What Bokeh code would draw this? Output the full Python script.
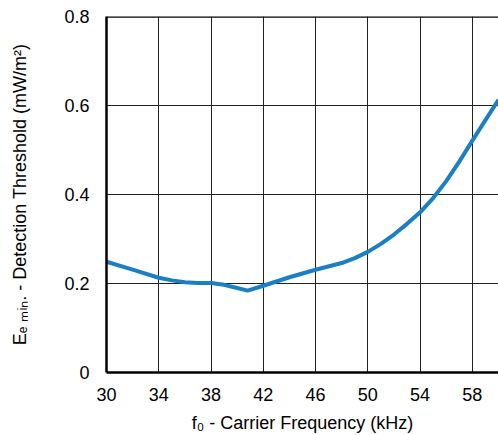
from bokeh.plotting import figure
from bokeh.models import Range1d, FixedTicker, Span
from bokeh.embed import file_html
from bokeh.resources import INLINE

freq_khz = [30, 32, 34, 35, 36, 37, 38, 39, 40, 40.8, 42, 44, 46, 48, 49, 50, 51, 52, 53, 54, 55, 56, 57, 58, 59, 60]
threshold = [0.249, 0.231, 0.213, 0.207, 0.203, 0.201, 0.201, 0.197, 0.19, 0.184, 0.195, 0.214, 0.231,
             0.246, 0.257, 0.271, 0.289, 0.31, 0.334, 0.36, 0.392, 0.43, 0.474, 0.521, 0.567, 0.613]
x_ticks = [30, 34, 38, 42, 46, 50, 54, 58]
y_ticks = [0, 0.2, 0.4, 0.6, 0.8]
y_tick_labels = {0: "0", 0.2: "0.2", 0.4: "0.4", 0.6: "0.6", 0.8: "0.8"}

FONT = "Liberation Sans"

p = figure(width=498, height=435, output_backend="svg", toolbar_location=None,
           x_range=Range1d(30, 60), y_range=Range1d(0, 0.8),
           min_border_left=106, min_border_right=0, min_border_top=16, min_border_bottom=0)

p.line(freq_khz, threshold, line_color="#1b7fc3", line_width=4, line_join="round")

p.outline_line_color = None
p.background_fill_color = "white"
p.border_fill_color = "white"

p.xaxis.ticker = FixedTicker(ticks=x_ticks)
p.yaxis.ticker = FixedTicker(ticks=y_ticks)
p.yaxis.major_label_overrides = y_tick_labels

for ax in (p.xaxis, p.yaxis):
    ax.axis_line_color = "black"
    ax.axis_line_width = 2.5
    ax.major_tick_line_color = None
    ax.minor_tick_line_color = None
    ax.major_tick_out = 0
    ax.major_tick_in = 0
    ax.major_label_text_font = FONT
    ax.major_label_text_font_size = "18px"
    ax.major_label_text_color = "black"
    ax.axis_label_text_font = FONT
    ax.axis_label_text_font_size = "18px"
    ax.axis_label_text_font_style = "normal"
    ax.axis_label_text_color = "black"

p.xaxis.major_label_standoff = 15
p.yaxis.major_label_standoff = 17
p.xaxis.axis_label = "f\u2080 - Carrier Frequency (kHz)"
p.xaxis.axis_label_standoff = 9
p.yaxis.axis_label = "E\u2091 \u2098\u1d62\u2099. - Detection Threshold (mW/m\u00b2)"
p.yaxis.axis_label_standoff = 31

p.xgrid.ticker = FixedTicker(ticks=x_ticks[1:])
p.ygrid.ticker = FixedTicker(ticks=[0.2, 0.4, 0.6])
p.xgrid.grid_line_color = "#222222"
p.ygrid.grid_line_color = "#222222"
p.xgrid.grid_line_width = 1
p.ygrid.grid_line_width = 1

top = Span(location=0.8, dimension="width", line_color="black", line_width=2.5)
p.add_layout(top)

open("out.html", "w").write(file_html(p, INLINE))
